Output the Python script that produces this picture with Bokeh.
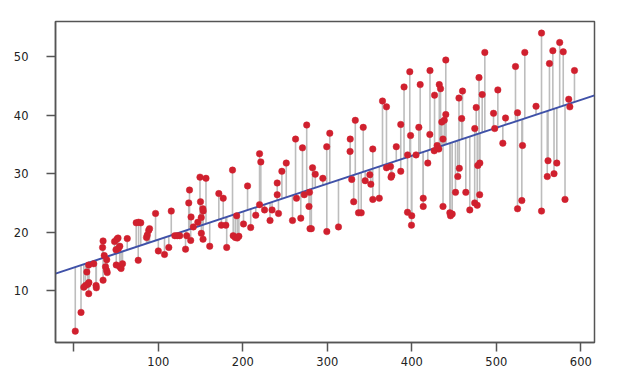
import numpy as np
from bokeh.plotting import figure
from bokeh.models import Range1d, FixedTicker, ColumnDataSource
from bokeh.embed import file_html
from bokeh.resources import INLINE

x_vals = [1.7, 8.5, 11.8, 13.8, 16.6, 17.8, 17.6, 15.4, 17.6, 23.5, 26.3, 26.6,
          34.6, 34.0, 34.6, 36.0, 38.9, 37.5, 38.7, 39.5, 48.2, 50.9, 52.3, 49.9,
          52.7, 54.4, 50.2, 54.3, 55.9, 57.6, 63.2, 73.8, 76.6, 79.2, 76.2, 86.0,
          86.9, 88.6, 89.6, 96.7, 100.0, 107.3, 112.4, 115.3, 119.5, 122.4, 125.3,
          132.2, 133.6, 136.9, 136.0, 138.7, 138.3, 141.4, 149.3, 156.4, 149.9,
          152.7, 153.1, 150.8, 146.7, 150.9, 152.9, 160.8, 171.6, 176.8, 174.6,
          179.9, 180.9, 187.8, 192.7, 188.6, 191.0, 193.4, 195.3, 200.8, 205.6,
          209.3, 215.3, 219.8, 221.3, 219.8, 225.7, 232.2, 234.6, 240.7, 240.7,
          242.2, 246.2, 251.4, 258.8, 262.4, 263.5, 268.6, 270.6, 275.6, 272.7,
          278.9, 278.3, 279.5, 281.1, 282.5, 285.7, 294.7, 299.4, 299.3, 302.9,
          313.2, 327.1, 326.9, 328.9, 331.2, 333.1, 336.9, 340.1, 342.5, 344.8,
          350.3, 351.5, 353.8, 353.8, 361.5, 365.3, 370.0, 370.0, 374.8, 376.3,
          375.4, 381.6, 386.9, 386.9, 390.8, 395.0, 394.9, 399.9, 399.6, 397.6,
          398.5, 405.0, 408.3, 409.9, 413.5, 413.5, 418.9, 421.5, 421.3, 426.9,
          426.5, 430.0, 431.9, 432.5, 434.0, 436.9, 435.5, 438.4, 440.2, 436.9,
          440.2, 445.0, 447.8, 445.8, 451.7, 454.4, 456.2, 455.8, 459.0, 460.0,
          463.9, 468.6, 474.5, 476.2, 474.4, 477.4, 480.3, 478.1, 480.5, 479.5,
          483.3, 486.4, 496.7, 498.1, 501.8, 507.7, 510.9, 522.7, 525.1, 525.1,
          530.2, 531.0, 533.7, 547.0, 553.5, 553.5, 560.3, 561.2, 562.9, 566.9,
          568.3, 571.6, 575.0, 579.2, 581.3, 585.7, 587.0, 592.5]

y_vals = [3.1, 6.3, 10.6, 10.9, 11.1, 11.4, 9.5, 13.2, 14.4, 14.6, 10.9, 10.5,
          18.5, 17.4, 11.8, 16.0, 15.3, 14.1, 13.5, 13.1, 18.4, 18.8, 19.0, 17.0,
          17.2, 17.6, 14.4, 14.1, 13.8, 14.6, 18.9, 21.6, 21.7, 21.6, 15.2, 19.1,
          19.5, 20.3, 20.6, 23.2, 16.8, 16.2, 17.4, 23.6, 19.4, 19.4, 19.4,
          17.1, 19.4, 27.2, 25.0, 22.6, 18.6, 20.9, 29.4, 29.2, 25.2,
          24.0, 23.6, 22.5, 21.7, 19.8, 18.8, 17.6, 26.6, 25.8, 21.2,
          21.2, 17.4, 30.6, 22.8, 19.4, 19.1, 19.0, 19.3, 21.4, 27.9,
          20.8, 22.9, 33.4, 32.0, 24.7, 23.8, 22.0, 23.8, 28.4, 26.4,
          23.2, 30.4, 31.8, 22.0, 35.9, 25.8, 22.4, 34.4, 38.3, 26.4,
          26.8, 24.4, 20.6, 20.6, 31.0, 29.9, 29.2, 20.1, 34.6, 36.9,
          20.9, 35.9, 33.8, 29.0, 25.2, 39.1, 23.3, 23.3, 37.9, 28.8,
          29.8, 28.2, 34.2, 25.6, 25.8, 42.4, 41.4, 31.0, 31.2, 29.7,
          29.4, 34.6, 38.4, 30.4, 44.8, 33.2, 23.4, 22.8, 21.2, 47.4,
          36.5, 33.2, 37.9, 45.2, 25.8, 24.4, 31.8, 47.6, 36.7, 43.4,
          33.9, 34.8, 34.2, 45.2, 44.5, 35.9, 38.8, 39.1, 40.1, 24.4,
          49.4, 23.3, 23.1, 22.8, 26.8, 29.5, 30.9, 42.9, 39.4, 44.1,
          26.8, 23.8, 37.7, 41.3, 25.0, 24.6, 26.4, 31.4, 31.8, 46.4,
          43.5, 50.7, 40.3, 37.7, 44.3, 35.2, 39.5, 48.3, 40.4, 24.0,
          25.4, 34.8, 50.7, 41.5, 54.0, 23.6, 29.5, 32.2, 48.8, 51.0,
          30.0, 31.8, 52.4, 50.8, 25.6, 42.7, 41.4, 47.6]

x_ticks = [0, 100, 200, 300, 400, 500, 600]
x_tick_labels = ["", "100", "200", "300", "400", "500", "600"]
y_ticks = [10, 20, 30, 40, 50]

x = np.array(x_vals, dtype=float)
y = np.array(y_vals, dtype=float)
slope, intercept = np.polyfit(x, y, 1)
fitted = intercept + slope * x

x_lo, x_hi = -21.7, 616.2
y_lo, y_hi = 1.16, 55.98

p = figure(output_backend="svg", toolbar_location=None,
           frame_width=539, frame_height=321,
           x_range=Range1d(x_lo, x_hi), y_range=Range1d(y_lo, y_hi),
           min_border_left=55, min_border_top=21, min_border_right=25,
           min_border_bottom=30)
p.background_fill_color = "white"
p.border_fill_color = "white"
p.outline_line_color = "#555555"
p.outline_line_width = 1.5
p.xgrid.visible = False
p.ygrid.visible = False

src = ColumnDataSource(dict(x=x, y=y, f=fitted))
p.segment(x0="x", y0="f", x1="x", y1="y", source=src,
          line_color="#bdbdbd", line_width=1.6)

line_x = np.array([x_lo, x_hi])
p.line(line_x, intercept + slope * line_x, line_color="#3f51a8", line_width=2)

p.scatter("x", "y", source=src, size=6.5, fill_color="#d0202e",
          line_color="#d0202e", line_width=0.5)

for ax in (p.xaxis[0], p.yaxis[0]):
    ax.axis_line_color = "#555555"
    ax.axis_line_width = 1.5
    ax.major_tick_line_color = "#555555"
    ax.major_tick_line_width = 1.5
    ax.major_tick_out = 9
    ax.major_tick_in = 0
    ax.minor_tick_line_color = None
    ax.major_label_text_font = "DejaVu Sans"
    ax.major_label_text_font_size = "11.5px"
    ax.major_label_text_color = "#222222"

p.xaxis[0].ticker = FixedTicker(ticks=x_ticks)
p.xaxis[0].major_label_overrides = {t: l for t, l in zip(x_ticks, x_tick_labels)}
p.xaxis[0].major_label_standoff = 5
p.yaxis[0].ticker = FixedTicker(ticks=y_ticks)
p.yaxis[0].major_label_standoff = 18

open("out.html", "w").write(file_html(p, INLINE))
